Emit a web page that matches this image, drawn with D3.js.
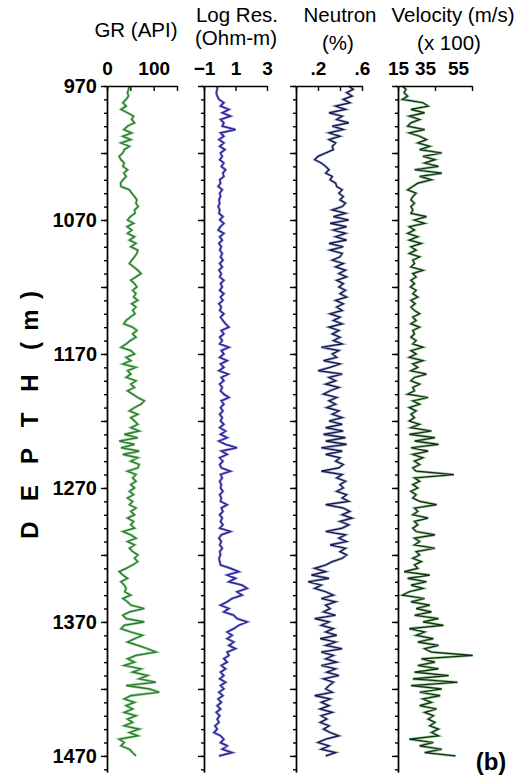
<!DOCTYPE html>
<html>
<head>
<meta charset="utf-8">
<script src="https://cdn.jsdelivr.net/npm/d3@7"></script>
<style>
  body { margin: 0; background: #fff; }
  svg { display: block; font-family: "Liberation Sans", Arial, sans-serif; }
  .axis path, .axis line { stroke: #000; stroke-width: 1.4; }
  .axis text { font-size: 19px; font-weight: bold; fill: #000; font-family: "Liberation Sans", Arial, sans-serif; }
  .depth text { font-size: 20px; }
  .title { font-size: 20.5px; fill: #000; }
</style>
</head>
<body>
<script>
// depth sampling of the logs (m)
var depthTop = 970, depthStep = 2.5;

// GR (API), every 2.5 m from 970 m
var grValues = [
  48,46,44,46,41,34,41,30,44,57,
  53,59,44,36,53,34,51,30,48,37,
  34,26,30,37,34,44,36,41,34,29,
  30,48,53,59,64,62,67,59,60,50,
  44,57,43,53,44,59,48,62,51,66,
  64,59,53,48,57,66,73,62,51,59,
  64,55,62,57,66,53,62,55,60,50,
  41,36,55,64,55,62,50,41,30,51,
  59,41,51,34,62,44,51,41,62,51,
  59,44,55,66,80,73,59,48,66,51,
  59,66,51,69,37,66,26,59,30,69,
  34,66,51,69,66,44,62,55,62,51,
  59,48,57,44,55,48,62,51,59,44,
  57,51,59,34,51,62,44,59,48,55,
  66,59,66,55,41,26,34,44,30,37,
  41,38,51,34,44,51,80,48,34,41,
  80,37,30,51,76,59,44,66,87,105,
  62,44,59,37,73,55,87,69,105,41,
  91,112,51,37,59,41,55,37,62,44,
  55,37,69,48,66,26,37,30,48,55,
  62
];

// Log resistivity (Ohm-m)
var resValues = [
  -0.16,-0.16,-0.22,-0.16,-0.05,0.26,0.05,0.58,0.16,0.68,
  0.05,0.26,0.16,1.0,0.05,0.26,-0.05,0.26,0,0.33,
  0.05,0.16,0,0.26,0.1,0.37,0.2,0.26,0,0.05,
  -0.1,0.16,0,0.05,-0.05,0,-0.1,0,-0.05,0.2,
  0,0.26,0.05,-0.1,0.26,0,0.16,-0.05,0.1,0,
  0.16,0.05,0.2,0,0.16,-0.05,0.1,0,0.26,0.05,
  0.16,0,0.26,0.05,0.2,-0.05,0.1,0,0.26,0.05,
  0.2,0.37,0.58,0.1,0.26,0,0.16,0,0.58,0.1,
  0.26,0,0.47,0.05,0.26,-0.05,0.54,0.1,0.26,0,
  0.16,0.05,0.26,0.58,0.1,0.26,0.05,0.2,0,0.16,
  0.05,0.26,0,0.37,0.05,0.47,-0.05,0.37,1.1,0.1,
  0.47,0,0.2,0,0.1,0.68,0.05,0.16,0,0.1,
  0.05,0.2,0,0.1,0.05,0.47,0.1,0.2,0,0.16,
  0.05,0.2,0,0.68,0.1,-0.05,0.1,0,0.16,0,
  0.05,-0.05,0,0.05,0.68,1.21,0.47,1.0,0.58,1.42,
  1.74,1.1,1.42,0.79,0.47,0.05,0.58,0.26,0.89,1.1,
  1.74,1.21,0.89,0.47,0.79,0.47,0.89,0.58,1.0,0.47,
  0.58,0.26,0.47,0.1,0.37,0.05,0.26,0,0.37,0.05,
  0.26,-0.05,0.2,-0.1,0.1,-0.16,0.05,-0.22,0,-0.16,
  -0.05,-0.3,-0.16,-0.37,0.05,0.26,0.05,0.47,0.16,0.79,
  -0.05
];

// Neutron porosity (fraction)
var neuValues = [
  0.48,0.52,0.46,0.51,0.43,0.49,0.36,0.45,0.30,0.42,
  0.37,0.48,0.33,0.43,0.30,0.40,0.30,0.36,0.33,0.34,
  0.27,0.20,0.17,0.23,0.27,0.30,0.27,0.33,0.31,0.36,
  0.37,0.42,0.39,0.43,0.40,0.45,0.42,0.33,0.45,0.34,
  0.48,0.31,0.46,0.34,0.45,0.36,0.46,0.30,0.43,0.31,
  0.42,0.40,0.33,0.43,0.36,0.45,0.39,0.46,0.37,0.43,
  0.39,0.45,0.40,0.46,0.36,0.43,0.37,0.42,0.31,0.40,
  0.34,0.42,0.30,0.39,0.33,0.40,0.34,0.42,0.23,0.39,
  0.33,0.37,0.25,0.40,0.31,0.20,0.42,0.30,0.36,0.27,
  0.39,0.31,0.25,0.37,0.30,0.36,0.28,0.39,0.33,0.42,
  0.30,0.42,0.27,0.43,0.25,0.45,0.27,0.46,0.23,0.42,
  0.27,0.40,0.36,0.43,0.39,0.23,0.42,0.37,0.45,0.40,
  0.43,0.37,0.46,0.42,0.48,0.27,0.43,0.49,0.42,0.51,
  0.40,0.48,0.42,0.27,0.45,0.39,0.46,0.31,0.45,0.40,
  0.46,0.42,0.33,0.27,0.17,0.27,0.14,0.30,0.11,0.23,
  0.17,0.27,0.34,0.23,0.36,0.27,0.31,0.25,0.36,0.17,
  0.30,0.23,0.34,0.27,0.37,0.22,0.36,0.27,0.42,0.23,
  0.34,0.27,0.37,0.23,0.36,0.28,0.39,0.25,0.34,0.30,
  0.27,0.33,0.17,0.31,0.23,0.30,0.22,0.33,0.23,0.28,
  0.22,0.30,0.25,0.31,0.39,0.27,0.20,0.30,0.23,0.36,
  0.27
];

// Velocity (m/s x 100)
var velValues = [
  17.4,19.3,18.3,20.2,17.4,28.5,31.3,22,29.4,21.1,
  26.7,22,20.2,29.4,21.1,26.7,30.4,25.7,32.2,26.7,
  38.7,28.5,35,29.4,36.9,23.9,38.7,26.7,33.1,25.7,
  23,20.2,24.8,23,22,23.9,22,23,22,30.4,
  23.9,29.4,21.1,23.9,20.2,25.7,21.1,27.6,22,24.8,
  21.1,26.7,23,23.9,22,28.5,23,24.8,22,23.9,
  21.7,24.8,23,25.7,22,24.3,22,23.9,26.7,23,
  24.8,22,26.7,23,23.9,22,24.8,23,28.5,22,
  24.8,21.1,28.5,23,25.7,22,30.4,23.9,22,26.7,
  23,23.9,20.2,31.3,23,26.7,21.1,24.8,22,23.9,
  21.1,26.7,22,33.1,21.1,35,23.9,36.9,22,31.3,
  23,28.5,23.9,26.7,23,24.8,45.2,23.9,26.7,23,
  25.7,22,24.8,23,26.7,35.9,23.9,25.7,23,31.3,
  23.9,25.7,23,24.8,35,23.9,26.7,23.9,35,24.8,
  26.7,23,27.6,23.9,25.7,18.3,32.2,20.2,30.4,22,
  28.5,21.1,17.4,29.4,22,32.2,24.8,33.1,23.9,36.9,
  28.5,39.6,21.1,29.4,24.8,34.1,25.7,36.9,29.4,33.1,
  55.4,27.6,35,25.7,36.9,23.9,42.4,23,47.2,22,
  38.7,26.7,37.8,28.5,33.1,26.7,35.9,29.4,34.1,31.3,
  35,32.2,36.9,33.1,36.9,21.1,34.1,26.7,38.7,29.4,
  46.1
];

// axis ticks
var depthLabels = [970, 1070, 1170, 1270, 1370, 1470];
var grTicks = [0, 50, 100, 150], grLabels = [0, 100];
var resTicks = [-1, 1, 3], resLabels = [-1, 1, 3];
var neuTicks = [0, 0.2, 0.4, 0.6], neuLabels = [0.2, 0.6];
var velTicks = [15, 35, 55], velLabels = [15, 35, 55];

var W = 528, H = 778;
var top0 = 86, bottom0 = 772;

var svg = d3.select("body").append("svg")
    .attr("width", W)
    .attr("height", H);

var y = d3.scaleLinear().domain([970, 1482]).range([top0, bottom0]);

var tracks = [
  {values: grValues, domain: [0, 150], range: [107, 177], ticks: grTicks, labels: grLabels,
   fmt: function(d) { return d3.format("d")(d); }, dark: "#23792a", light: "#93c98f", depthText: true},
  {values: resValues, domain: [-1, 3], range: [204, 267], ticks: resTicks, labels: resLabels,
   fmt: function(d) { return d3.format("d")(d); }, dark: "#22208e", light: "#8e8ad4", depthText: false},
  {values: neuValues, domain: [0, 0.6], range: [296, 362], ticks: neuTicks, labels: neuLabels,
   fmt: function(d) { return d3.format(".1f")(d).replace("0.", "."); }, dark: "#101448", light: "#9ca2c4", depthText: false},
  {values: velValues, domain: [15, 55], range: [398, 472], ticks: velTicks, labels: velLabels,
   fmt: function(d) { return d3.format("d")(d); }, dark: "#0a320c", light: "#9cbf98", depthText: false,
   labelShift: {15: 0, 35: -10, 55: -14}}
];

tracks.forEach(function(t) {
  var x = d3.scaleLinear().domain(t.domain).range(t.range);
  var x0 = t.range[0];

  var line = d3.line()
      .x(function(v) { return x(v); })
      .y(function(v, i) { return y(depthTop + i * depthStep); });

  // log curve: light halo + dark core
  svg.append("path")
      .datum(t.values)
      .attr("fill", "none")
      .attr("stroke", t.light)
      .attr("stroke-width", 2.6)
      .attr("d", line);
  svg.append("path")
      .datum(t.values)
      .attr("fill", "none")
      .attr("stroke", t.dark)
      .attr("stroke-width", 1.2)
      .attr("d", line);

  // depth ticks, minor every 10 m
  svg.append("g")
      .attr("class", "axis")
      .attr("transform", "translate(" + x0 + ",0)")
      .call(d3.axisLeft(y).tickValues(d3.range(970, 1481, 10)).tickSizeInner(3).tickSizeOuter(0).tickFormat(""));

  // major every 50 m
  svg.append("g")
      .attr("class", "axis depth")
      .attr("transform", "translate(" + x0 + ",0)")
      .call(d3.axisLeft(y).tickValues(d3.range(970, 1471, 50)).tickSizeInner(6).tickSizeOuter(0).tickPadding(4)
        .tickFormat(function(d) { return (t.depthText && depthLabels.indexOf(d) >= 0) ? d : ""; }));

  // scale on top
  var topAxis = svg.append("g")
      .attr("class", "axis")
      .attr("transform", "translate(0," + top0 + ")")
      .call(d3.axisTop(x).tickValues(t.ticks).tickSizeInner(-5).tickSizeOuter(0).tickPadding(11)
        .tickFormat(function(d) { return t.labels.indexOf(d) >= 0 ? t.fmt(d) : ""; }));

  // the velocity numbers sit a little left of their ticks in the original
  if (t.labelShift) {
    topAxis.selectAll(".tick text").attr("dx", function(d) { return t.labelShift[d] || 0; });
  }
});

// column headings
var titles = [
  {text: "GR (API)", x: 136, y: 37},
  {text: "Log Res.", x: 237, y: 22},
  {text: "(Ohm-m)", x: 236, y: 45},
  {text: "Neutron", x: 340, y: 22},
  {text: "(%)", x: 338, y: 50},
  {text: "Velocity (m/s)", x: 453, y: 22},
  {text: "(x 100)", x: 449, y: 50}
];

svg.selectAll(".title")
    .data(titles)
    .enter().append("text")
    .attr("class", "title")
    .attr("x", function(d) { return d.x; })
    .attr("y", function(d) { return d.y; })
    .attr("text-anchor", "middle")
    .text(function(d) { return d.text; });

// spaced-out vertical axis name, one letter at a time
var depthLetters = ["D", "E", "P", "T", "H", "(", "m", ")"];
var depthLetterY = [530, 493, 456, 420, 383, 346, 320, 295];

svg.selectAll(".depthLetter")
    .data(depthLetters)
    .enter().append("text")
    .attr("class", "depthLetter")
    .attr("transform", function(d, i) { return "translate(38," + depthLetterY[i] + ") rotate(-90)"; })
    .attr("text-anchor", "middle")
    .style("font-size", "24px")
    .style("font-weight", "bold")
    .text(function(d) { return d; });

svg.append("text")
    .attr("x", 491)
    .attr("y", 770)
    .attr("text-anchor", "middle")
    .style("font-size", "24px")
    .style("font-weight", "bold")
    .text("(b)");
</script>
</body>
</html>
